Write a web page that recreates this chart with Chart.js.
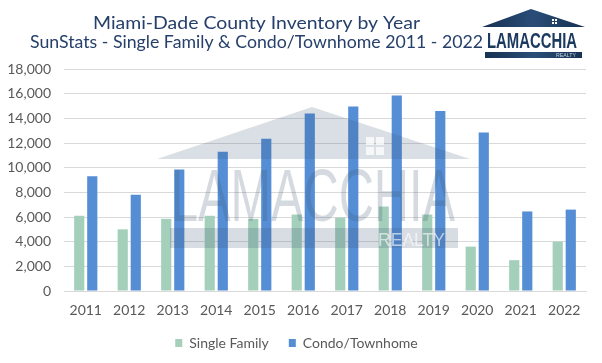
<!DOCTYPE html>
<html>
<head>
<meta charset="utf-8">
<script src="https://cdn.jsdelivr.net/npm/chart.js@4.4.1/dist/chart.umd.min.js"></script>
<style>
  html, body { margin: 0; padding: 0; background: #fff; }
  #wrap { width: 602px; height: 363px; position: relative; }
</style>
</head>
<body>
<div id="wrap"><canvas id="inventoryChart"></canvas></div>
<script>
const years = ['2011', '2012', '2013', '2014', '2015', '2016', '2017', '2018', '2019', '2020', '2021', '2022'];
const singleFamily = [6100, 5000, 5850, 6100, 5850, 6200, 5950, 6850, 6200, 3600, 2500, 4000];
const condoTownhome = [9300, 7800, 9850, 11300, 12350, 14400, 14950, 15850, 14600, 12850, 6450, 6600];
const titleLines = ['Miami-Dade County Inventory by Year', 'SunStats - Single Family & Condo/Townhome 2011 - 2022'];
const seriesNames = ['Single Family', 'Condo/Townhome'];

// draw text squeezed/stretched to a given width
function fitText(ctx, text, x, y, w) {
    const m = ctx.measureText(text).width;
    ctx.save();
    ctx.translate(x, y);
    ctx.scale(w / m, 1);
    ctx.fillText(text, 0, 0);
    ctx.restore();
}

// title and small logo on top
const headerPlugin = {
    id: 'header',
    afterDraw(chart) {
        const ctx = chart.ctx;
        ctx.save();
        ctx.fillStyle = '#26406B';
        ctx.textBaseline = 'alphabetic';
        ctx.textAlign = 'left';
        ctx.font = '18px Lato';
        fitText(ctx, titleLines[0], 93, 29, 327);
        ctx.font = '17px Lato';
        fitText(ctx, titleLines[1], 30, 48, 453);

        // logo
        const grad = ctx.createLinearGradient(482, 0, 585, 0);
        grad.addColorStop(0, '#16304F');
        grad.addColorStop(0.5, '#2A4D78');
        grad.addColorStop(1, '#16304F');
        ctx.fillStyle = grad;
        ctx.beginPath();
        ctx.moveTo(482, 27);
        ctx.lineTo(531, 9);
        ctx.lineTo(585, 27);
        ctx.closePath();
        ctx.fill();
        ctx.fillStyle = '#fff';
        ctx.fillRect(552, 19, 2, 2);
        ctx.fillRect(555, 19, 2, 2);
        ctx.fillRect(552, 22, 2, 2);
        ctx.fillRect(555, 22, 2, 2);
        ctx.fillStyle = '#1B3A60';
        ctx.font = 'bold 22px "Liberation Sans"';
        fitText(ctx, 'LAMACCHIA', 487, 48, 90);
        ctx.fillStyle = grad;
        ctx.fillRect(485, 52, 97, 6);
        ctx.fillStyle = '#C9D3E0';
        ctx.font = '5px "Liberation Sans"';
        fitText(ctx, 'REALTY', 556, 57, 20);
        ctx.restore();
    }
};

// faded watermark over the plot
const watermarkPlugin = {
    id: 'watermark',
    afterDatasetsDraw(chart) {
        const ctx = chart.ctx;
        ctx.save();
        ctx.fillStyle = 'rgba(60, 85, 115, 0.19)';
        ctx.beginPath();
        ctx.moveTo(157, 159);
        ctx.lineTo(312, 107);
        ctx.lineTo(470, 159);
        ctx.closePath();
        ctx.fill();
        ctx.fillStyle = 'rgba(255, 255, 255, 0.75)';
        ctx.fillRect(366, 137, 8, 8);
        ctx.fillRect(376, 137, 8, 8);
        ctx.fillRect(366, 147, 8, 8);
        ctx.fillRect(376, 147, 8, 8);

        ctx.fillStyle = 'rgba(60, 85, 115, 0.22)';
        ctx.font = '74px "Liberation Sans"';
        ctx.textBaseline = 'alphabetic';
        fitText(ctx, 'LAMACCHIA', 171, 221, 284);

        ctx.fillStyle = 'rgba(60, 85, 115, 0.2)';
        ctx.fillRect(170, 228, 288, 20);
        ctx.fillStyle = 'rgba(255, 255, 255, 0.6)';
        ctx.font = '19px "Liberation Sans"';
        fitText(ctx, 'REALTY', 378, 246, 67);
        ctx.restore();
    }
};

const ctx = document.getElementById('inventoryChart').getContext('2d');

new Chart(ctx, {
    type: 'bar',
    data: {
        labels: years,
        datasets: [
            {
                label: seriesNames[0],
                data: singleFamily,
                backgroundColor: '#A4CFBB',
                categoryPercentage: 0.6,
                barPercentage: 0.78
            },
            {
                label: seriesNames[1],
                data: condoTownhome,
                backgroundColor: '#558ED5',
                categoryPercentage: 0.6,
                barPercentage: 0.78
            }
        ]
    },
    options: {
        responsive: true,
        maintainAspectRatio: false,
        animation: false,
        layout: {
            padding: { top: 69, left: 7, right: 16, bottom: 3 }
        },
        plugins: {
            title: { display: false },
            tooltip: { enabled: false },
            legend: {
                position: 'bottom',
                labels: {
                    boxWidth: 7,
                    boxHeight: 8,
                    padding: 20,
                    color: '#595959',
                    font: { family: 'Lato', size: 14 }
                }
            }
        },
        scales: {
            x: {
                grid: { display: false, drawTicks: false },
                border: { color: '#D9D9D9' },
                ticks: {
                    color: '#595959',
                    padding: 11,
                    font: { family: 'Lato', size: 14 }
                },
                afterFit(scale) { scale.height = 25; }
            },
            y: {
                min: 0,
                max: 18000,
                grid: { color: '#D9D9D9', drawTicks: false },
                border: { display: false },
                ticks: {
                    stepSize: 2000,
                    padding: 13,
                    color: '#595959',
                    font: { family: 'Lato', size: 14 },
                    callback: v => v.toLocaleString('en-US')
                },
                afterFit(scale) { scale.width = 57; }
            }
        }
    },
    plugins: [watermarkPlugin, headerPlugin]
});
</script>
</body>
</html>
